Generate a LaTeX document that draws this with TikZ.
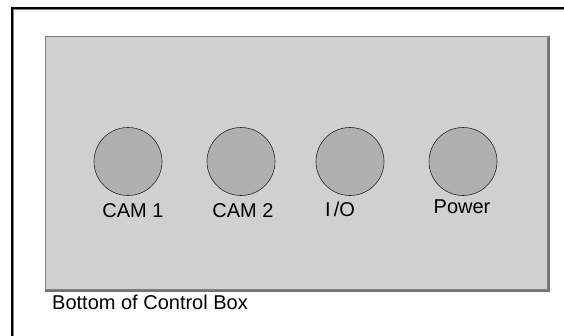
\documentclass[tikz,border=0pt]{standalone}
\usepackage{fontspec}
\setmainfont{Liberation Sans}
\usetikzlibrary{calc}
\begin{document}
\begin{tikzpicture}[x=1pt,y=-1pt,
  port/.style={circle,draw=black!85,line width=0.6pt,fill=portgray,minimum size=68pt,inner sep=0pt},
  lbl/.style={font=\fontsize{20}{24}\selectfont,anchor=base,inner sep=0pt},
]
\definecolor{panelgray}{HTML}{D0D0D0}
\definecolor{portgray}{HTML}{B0B0B0}
\useasboundingbox (0,0) rectangle (564,335);
\fill[white] (0,0) rectangle (564,335);
% outer frame (cropped)
\draw[line width=2pt,black] (12,340) -- (12,8) -- (570,8);
\draw[line width=0.6pt,black!50] (13.5,340) -- (13.5,9.5) -- (570,9.5);
% panel
\node[draw=black!50,line width=1.2pt,fill=panelgray,minimum width=502pt,minimum height=253pt,inner sep=0pt,anchor=north west] (panel) at (45,36) {};
\draw[black!55,line width=2.2pt] ($(panel.north east)+(0.5,0)$) -- ($(panel.south east)+(0.5,0.5)$) -- ($(panel.south west)+(0,0.5)$);
\node[port] (cam1) at (128,161.5) {};
\node[port] (cam2) at (241,161.5) {};
\node[port] (io) at (350,161.5) {};
\node[port] (pwr) at (463,161.5) {};
\node[lbl] (l1) at (133,217) {CAM 1};
\node[lbl] (l2) at (243,217) {CAM 2};
\node[lbl] (l3) at (340,216) {I\,/O};
\node[lbl] (l4) at (462,213) {Power};
\node[lbl,anchor=base west] (cap) at (52,309) {Bottom of Control Box};
\end{tikzpicture}
\end{document}
